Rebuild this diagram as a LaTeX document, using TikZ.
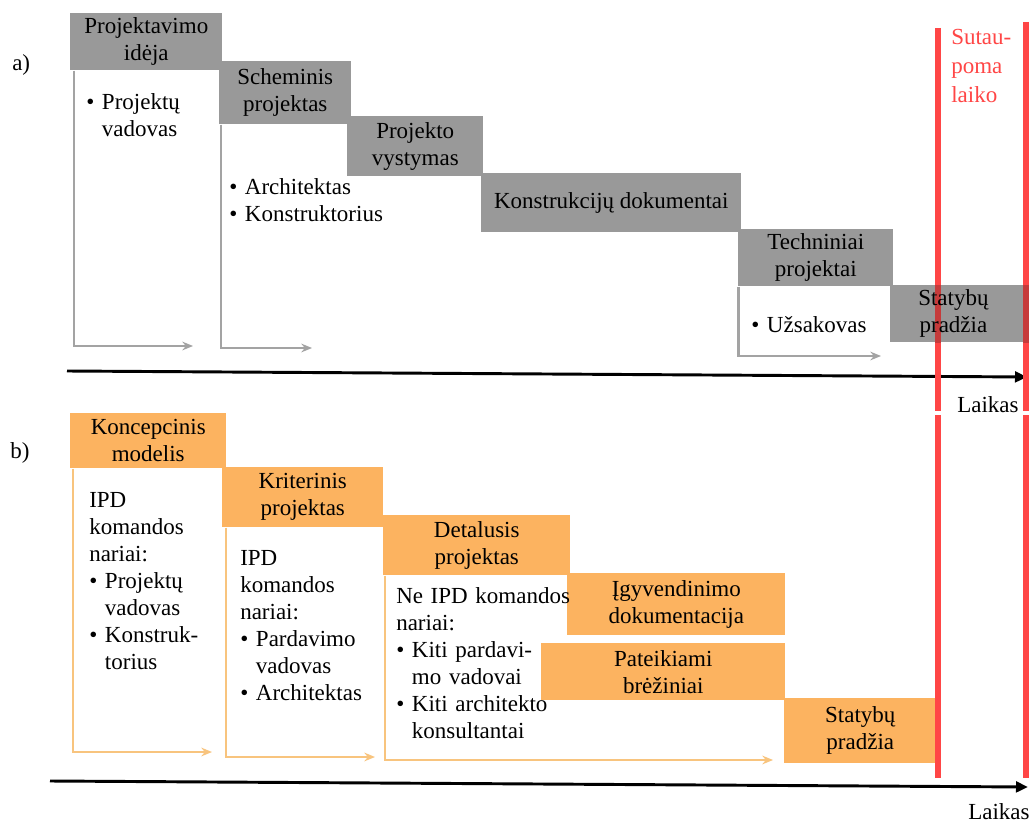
\documentclass[tikz,border=0pt]{standalone}
\usepackage{fontspec}
\setmainfont{Liberation Serif}
\usetikzlibrary{arrows.meta}
\definecolor{boxgray}{HTML}{999999}
\definecolor{linegray}{HTML}{A3A3A3}
\definecolor{boxorange}{HTML}{FCB360}
\definecolor{lineorange}{HTML}{F8C47E}
\definecolor{redline}{HTML}{FF4646}
\definecolor{redoverlap}{HTML}{C63B3B}
\newcommand\myfs{\fontsize{17.25}{20.25}\selectfont}
\newcommand\mybul{\textbullet\ }
\newcommand\myind{\phantom{\textbullet\ }}
\begin{document}
\begin{tikzpicture}[x=0.75pt,y=-0.75pt,font=\myfs,
  sz/.style 2 args={minimum width=#1*0.75pt,minimum height=#2*0.75pt},
  gbox/.style={fill=boxgray,inner sep=0pt,align=center,anchor=north west},
  obox/.style={fill=boxorange,inner sep=0pt,align=center,anchor=north west},
  gbr/.style={draw=linegray,line width=2pt,-{Stealth[length=8pt,width=6.5pt]}},
  obr/.style={draw=lineorange,line width=2pt,-{Stealth[length=8pt,width=6.5pt]}},
  axisline/.style={draw=black,line width=2.2pt,-{Triangle[length=9pt,width=8pt]}},
  redbar/.style={draw=redline,line width=5.2pt},
  txt/.style={anchor=base west,inner sep=0pt,align=left,text width=#1*0.75pt},
  lbl/.style={anchor=base west,inner sep=0pt}]
\useasboundingbox[fill=white] (0,0) rectangle (1031,823);

% ---------------- a) ----------------
\node[lbl] (la) at (12,71) {a)};
\node[gbox,sz={152}{57}] (ga1) at (70,13) {Projektavimo\\idėja};
\node[gbox,sz={132}{63}] (ga2) at (219,61) {Scheminis\\projektas};
\node[gbox,sz={136}{60}] (ga3) at (347,116) {Projekto\\vystymas};
\node[gbox,sz={260}{59}] (ga4) at (481,173) {Konstrukcijų dokumentai};
\node[gbox,sz={155}{57}] (ga5) at (738,229) {Techniniai\\projektai};
\node[gbox,sz={137}{57}] (ga6) at (890,285) {};

\coordinate (ea1) at (193,346);
\coordinate (ea2) at (312,348);
\coordinate (ea5) at (881,356);
\draw[gbr] ([xshift=3pt]ga1.south west) |- (ea1);
\draw[gbr] ([xshift=1.5pt]ga2.south west) |- (ea2);
\draw[gbr] ([xshift=0.5pt]ga5.south west) |- (ea5);

\node[txt=140] (ta1) at (86,110) {\mybul Projektų\\\myind vadovas};
\node[txt=200] (ta2) at (229,195) {\mybul Architektas\\\mybul Konstruktorius};
\node[txt=140] (ta5) at (751,333) {\mybul Užsakovas};

\coordinate (ax0) at (67,371);
\coordinate (ax1) at (1027,377);
\draw[axisline] (ax0) -- (ax1);
\node[lbl] (lt1) at (957,412) {Laikas};

% ---------------- b) ----------------
\node[lbl] (lb) at (10,458) {b)};
\node[obox,sz={156}{55}] (ob1) at (70,413) {Koncepcinis\\modelis};
\node[obox,sz={161}{60}] (ob2) at (222,467) {Kriterinis\\projektas};
\node[obox,sz={187}{60}] (ob3) at (383,515) {Detalusis\\projektas};
\node[obox,sz={218}{62}] (ob4) at (567,573) {Įgyvendinimo\\dokumentacija};
\node[obox,sz={244}{57}] (ob5) at (541,643) {Pateikiami\\brėžiniai};
\node[obox,sz={152}{65}] (ob6) at (784,698) {Statybų\\pradžia};

\coordinate (eb1) at (212,752);
\coordinate (eb2) at (375,757);
\coordinate (eb3) at (773,760);
\draw[obr] ([xshift=2.2pt]ob1.south west) |- (eb1);
\draw[obr] ([xshift=3pt]ob2.south west) |- (eb2);
\draw[obr] ([xshift=1.5pt]ob3.south west) |- (eb3);

\node[txt=150] (tb1) at (89,507) {IPD\\komandos\\nariai:\\\mybul Projektų\\\myind vadovas\\\mybul Konstruk-\\\myind torius};
\node[txt=150] (tb2) at (240,565) {IPD\\komandos\\nariai:\\\mybul Pardavimo\\\myind vadovas\\\mybul Architektas};
\node[txt=180] (tb3) at (396,603) {Ne IPD komandos\\nariai:\\\mybul Kiti pardavi-\\\myind mo vadovai\\\mybul Kiti architekto\\\myind konsultantai};

\coordinate (bx0) at (50,781);
\coordinate (bx1) at (1028,787);
\draw[axisline] (bx0) -- (bx1);
\node[lbl] (lt2) at (968,819) {Laikas};

% ---------------- red bars ----------------
\coordinate (r1a) at (938,28);
\coordinate (r1b) at (938,411);
\coordinate (r1c) at (938,415);
\coordinate (r1d) at (938,778);
\coordinate (r2a) at (1026,22);
\coordinate (r2b) at (1026,411);
\coordinate (r2c) at (1026,415);
\coordinate (r2d) at (1026,778);
\draw[redbar] (r1a) -- (r1b);
\draw[redbar] (r1c) -- (r1d);
\draw[redbar] (r2a) -- (r2b);
\draw[redbar] (r2c) -- (r2d);
\draw[draw=redoverlap,line width=5.2pt] (ga6.north west -| r1a) -- (ga6.south west -| r1a);
\draw[draw=redoverlap,line width=5.2pt] (ga6.north east -| r2a) -- (ga6.south east -| r2a);
\node[align=center,inner sep=0pt] (ga6t) at ([xshift=-4pt]ga6.center) {Statybų\\pradžia};
\node[txt=70,text=redline,font=\fontsize{17.25}{21.75}\selectfont] (st) at (951,45) {Sutau-\\poma\\laiko};
\end{tikzpicture}
\end{document}
